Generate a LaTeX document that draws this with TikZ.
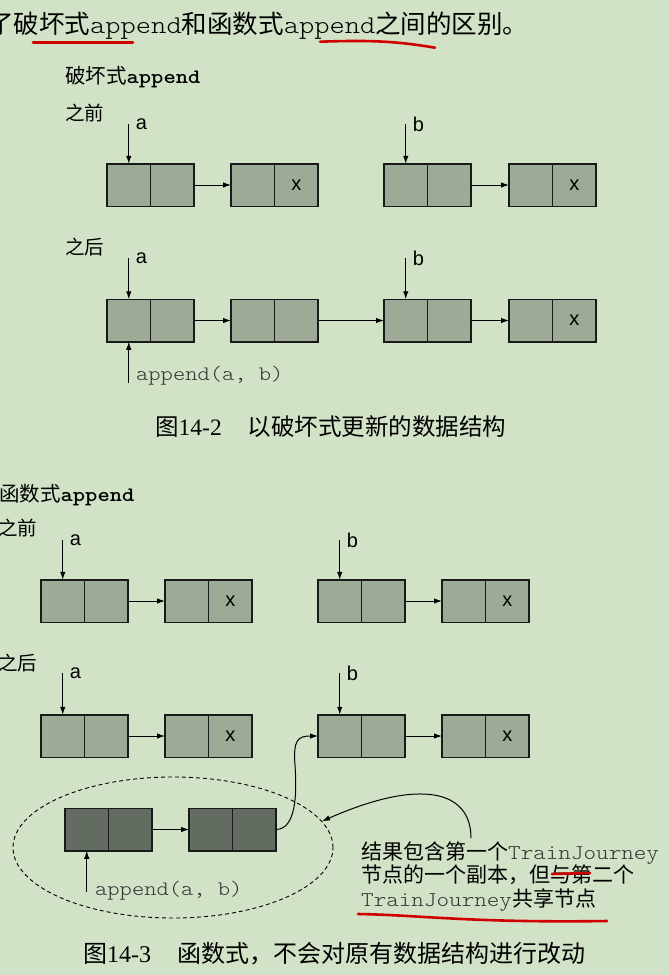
\documentclass[tikz,border=0pt]{standalone}
\usepackage{fontspec}
\setmainfont{Liberation Serif}
\setsansfont{Liberation Sans}
\setmonofont{lmmonolt10-regular.otf}[FakeStretch=1.14, BoldFont=lmmonolt10-bold.otf]
\newfontfamily\cjk{Noto Sans CJK SC}
\usetikzlibrary{positioning,arrows.meta,shapes.geometric}
\definecolor{bgc}{HTML}{D2E2C7}
\definecolor{cellc}{HTML}{9DAA96}
\definecolor{darkc}{HTML}{636C60}
\definecolor{markc}{HTML}{D00000}
\newcommand{\fsz}[1]{\fontsize{#1}{#1}\selectfont}

\begin{document}
\begin{tikzpicture}[
    x=1pt, y=-1pt,
    cell/.style={draw=black!90, fill=cellc, minimum width=43.5pt, minimum height=42.5pt,
                 inner sep=0pt, outer sep=0pt, line width=1.5pt, font=\sffamily\fsz{20}},
    dcell/.style={cell, fill=darkc},
    arr/.style={-{Latex[length=8pt,width=5.5pt]}, line width=1pt},
    txt/.style={anchor=base west, inner sep=0pt},
    lbl/.style={inner sep=0pt, font=\sffamily\fsz{20}},
    code/.style={txt, font=\ttfamily\fsz{20.5}, text=black!80},
    pen/.style={draw=markc, line width=2.6pt, line cap=round},
]

% ===== Page =====
\fill[bgc] (0,0) rectangle (669,975);
\useasboundingbox (0,0) rectangle (669,975);

% ===== Title line =====
\node[txt, font=\cjk\fsz{25.5}] (title) at (-12,33)
     {了破坏式{\ttfamily append}和函数式{\ttfamily append}之间的区别。};

% ===== Destructive append: before =====
\node[txt, font=\cjk\fsz{20.5}] (hd1) at (65,83) {破坏式{\ttfamily\bfseries append}};
\node[txt, font=\cjk\fsz{19.5}] (bef1) at (65,120) {之前};

\node[cell] (da1) at (128.75,185) {};
\node[cell, right=0pt of da1] (da1r) {};
\node[cell] (da2) at (252.75,185) {};
\node[cell, right=0pt of da2] (da2r) {x};
\node[cell] (db1) at (405.75,185) {};
\node[cell, right=0pt of db1] (db1r) {};
\node[cell] (db2) at (530.75,185) {};
\node[cell, right=0pt of db2] (db2r) {x};

\draw[arr] (da1r) -- (da2);
\draw[arr] (db1r) -- (db2);

\coordinate (pa1) at (128.75,124);
\coordinate (pb1) at (405.75,124);
\draw[arr] (pa1) -- (da1);
\draw[arr] (pb1) -- (db1);
\node[lbl, right=7pt of pa1] (la1) {a};
\node[lbl, right=7pt of pb1] (lb1) {b};

% ===== Destructive append: after =====
\node[txt, font=\cjk\fsz{19.5}] (aft1) at (65,254) {之后};

\node[cell] (ea1) at (128.75,320.5) {};
\node[cell, right=0pt of ea1] (ea1r) {};
\node[cell] (ea2) at (252.75,320.5) {};
\node[cell, right=0pt of ea2] (ea2r) {};
\node[cell] (eb1) at (405.75,320.5) {};
\node[cell, right=0pt of eb1] (eb1r) {};
\node[cell] (eb2) at (530.75,320.5) {};
\node[cell, right=0pt of eb2] (eb2r) {x};

\draw[arr] (ea1r) -- (ea2);
\draw[arr] (ea2r) -- (eb1);
\draw[arr] (eb1r) -- (eb2);

\coordinate (pa2) at (128.75,258);
\coordinate (pb2) at (405.75,258);
\draw[arr] (pa2) -- (ea1);
\draw[arr] (pb2) -- (eb1);
\node[lbl, right=7pt of pa2] (la2) {a};
\node[lbl, right=7pt of pb2] (lb2) {b};

\coordinate (qa1) at (128.75,383);
\draw[arr] (qa1) -- (ea1);
\node[code] (ap1) at (136,380) {append(a, b)};

\node[txt, font=\cjk\fsz{23.5}] (cap1) at (155,435)
     {图{\rmfamily 14-2}\hspace{26pt}以破坏式更新的数据结构};

% ===== Functional append: before =====
\node[txt, font=\cjk\fsz{20.5}] (hd2) at (-1,501) {函数式{\ttfamily\bfseries append}};
\node[txt, font=\cjk\fsz{19.5}] (bef2) at (-2,535) {之前};

\node[cell] (fa1) at (62.75,601) {};
\node[cell, right=0pt of fa1] (fa1r) {};
\node[cell] (fa2) at (186.75,601) {};
\node[cell, right=0pt of fa2] (fa2r) {x};
\node[cell] (fb1) at (339.75,601) {};
\node[cell, right=0pt of fb1] (fb1r) {};
\node[cell] (fb2) at (463.75,601) {};
\node[cell, right=0pt of fb2] (fb2r) {x};

\draw[arr] (fa1r) -- (fa2);
\draw[arr] (fb1r) -- (fb2);

\coordinate (pa3) at (62.75,540);
\coordinate (pb3) at (339.75,540);
\draw[arr] (pa3) -- (fa1);
\draw[arr] (pb3) -- (fb1);
\node[lbl, right=7pt of pa3] (la3) {a};
\node[lbl, right=7pt of pb3] (lb3) {b};

% ===== Functional append: after =====
\node[txt, font=\cjk\fsz{19.5}] (aft2) at (-2,670) {之后};

\node[cell] (ga1) at (62.75,736) {};
\node[cell, right=0pt of ga1] (ga1r) {};
\node[cell] (ga2) at (186.75,736) {};
\node[cell, right=0pt of ga2] (ga2r) {x};
\node[cell] (gb1) at (339.75,736) {};
\node[cell, right=0pt of gb1] (gb1r) {};
\node[cell] (gb2) at (463.75,736) {};
\node[cell, right=0pt of gb2] (gb2r) {x};

\draw[arr] (ga1r) -- (ga2);
\draw[arr] (gb1r) -- (gb2);

\coordinate (pa4) at (62.75,673);
\coordinate (pb4) at (339.75,673);
\draw[arr] (pa4) -- (ga1);
\draw[arr] (pb4) -- (gb1);
\node[lbl, right=7pt of pa4] (la4) {a};
\node[lbl, right=7pt of pb4] (lb4) {b};

% copy of the first list, shares b
\node[dcell] (c1) at (86.75,829.5) {};
\node[dcell, right=0pt of c1] (c1r) {};
\node[dcell] (c2) at (210.75,829.5) {};
\node[dcell, right=0pt of c2] (c2r) {};
\draw[arr] (c1r) -- (c2);

\node[draw, ellipse, line width=0.9pt, dash pattern=on 4pt off 3pt,
      minimum width=320pt, minimum height=141pt] (grp) at (173,847.5) {};

\draw[arr] (c2r.east) .. controls (296,829) and (297,795) .. (295,765)
     .. controls (293,740) and (298,736) .. (gb1.west);

\coordinate (qa2) at (86.75,892);
\draw[arr] (qa2) -- (c1);
\node[code] (ap2) at (95,895) {append(a, b)};

% ===== Note =====
\node[txt, align=left, font=\cjk\fontsize{21}{23.5}\selectfont] (note) at (361,906)
     {结果包含第一个{\ttfamily\color{black!80}TrainJourney}\\
      节点的一个副本，但与第二个\\
      {\ttfamily\color{black!80}TrainJourney}共享节点};
\coordinate (nt) at (471,838);
\draw[arr] (nt) .. controls (471,790) and (420,778) .. (grp.10);

\node[txt, font=\cjk\fsz{24}] (cap2) at (83,962)
     {图{\rmfamily 14-3}\hspace{26pt}函数式，不会对原有数据结构进行改动};

% ===== Red marks =====
\draw[pen] (33,42.7) -- (133,42.7);
\draw[pen] (320,41.7) .. controls (370,40) and (395,41) .. (435,47.7);
\draw[pen] (552,874) -- (590,873);
\draw[pen] (358,914) .. controls (420,915) and (470,923) .. (607,921);

\end{tikzpicture}
\end{document}
